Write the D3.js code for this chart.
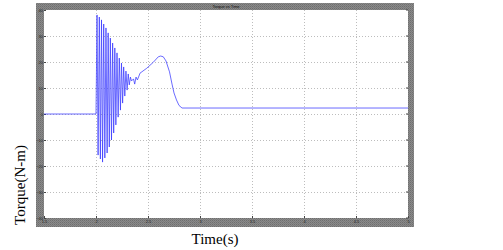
<!DOCTYPE html>
<html>
<head>
<meta charset="utf-8">
<script src="https://cdn.jsdelivr.net/npm/d3@7"></script>
<style>
  body { margin: 0; background: #fff; }
  svg { display: block; }
</style>
</head>
<body>
<div class="canvas"></div>
<script>
// time (s) and torque (N-m)
const timeS = [
  1.5, 2.0,
  2.010, 2.020, 2.032, 2.042, 2.053, 2.063, 2.074, 2.085, 2.096, 2.107,
  2.117, 2.128, 2.138, 2.149, 2.160, 2.170, 2.181, 2.191, 2.202, 2.213,
  2.224, 2.235, 2.245, 2.256, 2.266, 2.277, 2.288, 2.299, 2.310, 2.320,
  2.331, 2.341,
  2.361, 2.372, 2.385, 2.398, 2.413, 2.423,
  2.488, 2.551, 2.599, 2.622, 2.647, 2.673, 2.707, 2.731, 2.750, 2.774,
  2.798, 2.827, 5.0
];
const torqueNm = [
  0, 0,
  38.1, -15.8, 37.3, -17.3, 36.2, -18.5, 34.6, -16.9, 33.1, -15.0,
  31.2, -12.7, 29.2, -10.0, 27.3, -7.3, 25.4, -4.2, 23.5, -1.2,
  21.5, 1.5, 19.6, 4.2, 18.1, 6.9, 16.5, 9.2, 15.4, 11.2,
  14.2, 12.7,
  13.5, 11.5, 14.2, 13.1, 14.6, 15.7,
  17.6, 19.9, 22.0, 22.3, 22.0, 20.4, 16.2, 11.5, 8.1, 5.4,
  3.3, 2.3, 2.3
];
const xTicks = [1.5, 2, 2.5, 3, 3.5, 4, 4.5, 5];
const yTicks = [-40, -30, -20, -10, 0, 10, 20, 30, 40];
const titleText = 'Torque vs Time';
const xLabel = 'Time(s)';
const yLabel = 'Torque(N-m)';

const width = 503, height = 250;
const frame = { left: 36, top: 3, right: 414, bottom: 227 };
const plot = { left: 44, top: 10, right: 408, bottom: 218 };

const svg = d3.select('.canvas')
  .append('svg')
  .attr('width', width)
  .attr('height', height);

// dithered grey like the screenshot
const defs = svg.append('defs');
const pat = defs.append('pattern')
  .attr('id', 'dither')
  .attr('width', 2).attr('height', 2)
  .attr('patternUnits', 'userSpaceOnUse');
pat.append('rect').attr('width', 2).attr('height', 2).attr('fill', '#8a8a8a');
pat.append('rect').attr('width', 1).attr('height', 1).attr('fill', '#6e6e6e');
pat.append('rect').attr('x', 1).attr('y', 1).attr('width', 1).attr('height', 1).attr('fill', '#7a7a7a');

svg.append('rect')
  .attr('x', frame.left).attr('y', frame.top)
  .attr('width', frame.right - frame.left)
  .attr('height', frame.bottom - frame.top)
  .attr('fill', 'url(#dither)');

svg.append('rect')
  .attr('x', plot.left).attr('y', plot.top)
  .attr('width', plot.right - plot.left)
  .attr('height', plot.bottom - plot.top)
  .attr('fill', '#fff');

const x = d3.scaleLinear().domain([1.5, 5]).range([plot.left, plot.right]);
const y = d3.scaleLinear().domain([-40, 40]).range([plot.bottom, plot.top]);

// dotted grid
const grid = svg.append('g')
  .attr('stroke', '#bdbdbd')
  .attr('stroke-width', 1)
  .attr('stroke-dasharray', '1,2');

grid.selectAll('.gx')
  .data(xTicks.slice(1, -1))
  .join('line')
  .attr('x1', d => Math.round(x(d)) + 0.5).attr('x2', d => Math.round(x(d)) + 0.5)
  .attr('y1', plot.top).attr('y2', plot.bottom);

grid.selectAll('.gy')
  .data(yTicks.slice(1, -1))
  .join('line')
  .attr('x1', plot.left).attr('x2', plot.right)
  .attr('y1', d => Math.round(y(d)) + 0.5).attr('y2', d => Math.round(y(d)) + 0.5);

// axes
const xAxis = svg.append('g')
  .attr('transform', `translate(0, ${plot.bottom})`)
  .call(d3.axisBottom(x).tickValues(xTicks).tickSize(-2).tickPadding(2).tickFormat(d3.format('')));
const yAxis = svg.append('g')
  .attr('transform', `translate(${plot.left}, 0)`)
  .call(d3.axisLeft(y).tickValues(yTicks).tickSize(-2).tickPadding(1).tickFormat(d3.format('')));

[xAxis, yAxis].forEach(a => {
  a.select('.domain').remove();
  a.selectAll('line').attr('stroke', '#444');
  a.selectAll('text')
    .attr('fill', '#222')
    .style('font-family', 'Liberation Sans, Arial, sans-serif')
    .style('font-size', '4px');
});

// right side tick marks
svg.append('g')
  .selectAll('line')
  .data(yTicks)
  .join('line')
  .attr('x1', plot.right - 2).attr('x2', plot.right)
  .attr('y1', d => y(d)).attr('y2', d => y(d))
  .attr('stroke', '#444');

// torque trace
const line = d3.line()
  .x((d, i) => x(timeS[i]))
  .y(d => y(d));

svg.append('path')
  .datum(torqueNm)
  .attr('fill', 'none')
  .attr('stroke', '#3a3aff')
  .attr('stroke-width', 0.75)
  .attr('d', line);

// title in the top grey strip
svg.append('text')
  .attr('x', 226).attr('y', 7.5)
  .attr('text-anchor', 'middle')
  .style('font-family', 'Liberation Sans, Arial, sans-serif')
  .style('font-size', '4px')
  .attr('fill', '#111')
  .text(titleText);

// axis labels
svg.append('text')
  .attr('x', 215).attr('y', 244)
  .attr('text-anchor', 'middle')
  .style('font-family', 'Liberation Serif, Times New Roman, serif')
  .style('font-size', '15px')
  .attr('fill', '#000')
  .text(xLabel);

svg.append('text')
  .attr('transform', 'translate(25, 185) rotate(-90)')
  .attr('text-anchor', 'middle')
  .style('font-family', 'Liberation Serif, Times New Roman, serif')
  .style('font-size', '15px')
  .attr('fill', '#000')
  .text(yLabel);
</script>
</body>
</html>
